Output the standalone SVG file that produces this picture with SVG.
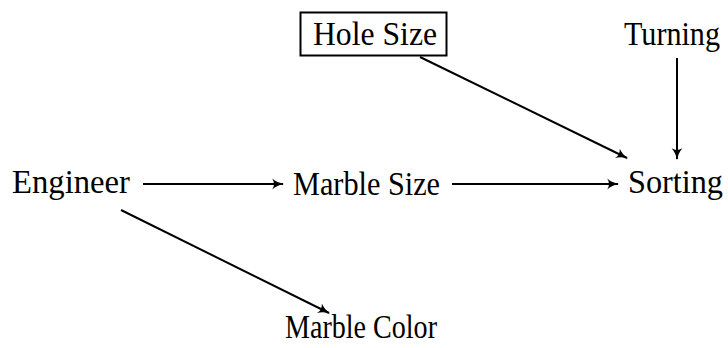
<svg xmlns="http://www.w3.org/2000/svg" width="728" height="348" viewBox="0 0 728 348">
<defs>
<marker id="ah" viewBox="0 0 10 10" refX="9" refY="5" markerWidth="12" markerHeight="12" markerUnits="userSpaceOnUse" orient="auto">
<path d="M0,0.5 Q4,4 10,5 Q4,6 0,9.5 Q3,5 0,0.5 Z" fill="#000"/>
</marker>
<style>
text{font-family:"Liberation Serif","DejaVu Serif",serif;font-size:33px;fill:#000}
.e{stroke:#000;stroke-width:2;fill:none;marker-end:url(#ah)}
</style>
</defs>
<rect width="728" height="348" fill="#fff"/>
<g id="edges">
<line class="e" x1="143" y1="184" x2="283" y2="184"/>
<line class="e" x1="452" y1="184" x2="618" y2="184"/>
<line class="e" x1="420" y1="57" x2="627" y2="158"/>
<line class="e" x1="677" y1="58" x2="677" y2="159"/>
<line class="e" x1="121" y1="210" x2="329" y2="313"/>
</g>
<g id="hole_size"><rect x="300.5" y="12.5" width="146" height="43" fill="none" stroke="#000" stroke-width="2"/><text x="313" y="45" textLength="124" lengthAdjust="spacingAndGlyphs">Hole Size</text></g>
<g id="turning"><text x="624" y="45" textLength="96" lengthAdjust="spacingAndGlyphs">Turning</text></g>
<g id="engineer"><text x="12" y="193" textLength="118" lengthAdjust="spacingAndGlyphs">Engineer</text></g>
<g id="marble_size"><text x="293" y="195" textLength="147" lengthAdjust="spacingAndGlyphs">Marble Size</text></g>
<g id="sorting"><text x="628" y="193" textLength="95" lengthAdjust="spacingAndGlyphs">Sorting</text></g>
<g id="marble_color"><text x="285" y="338" textLength="152" lengthAdjust="spacingAndGlyphs">Marble Color</text></g>
</svg>
